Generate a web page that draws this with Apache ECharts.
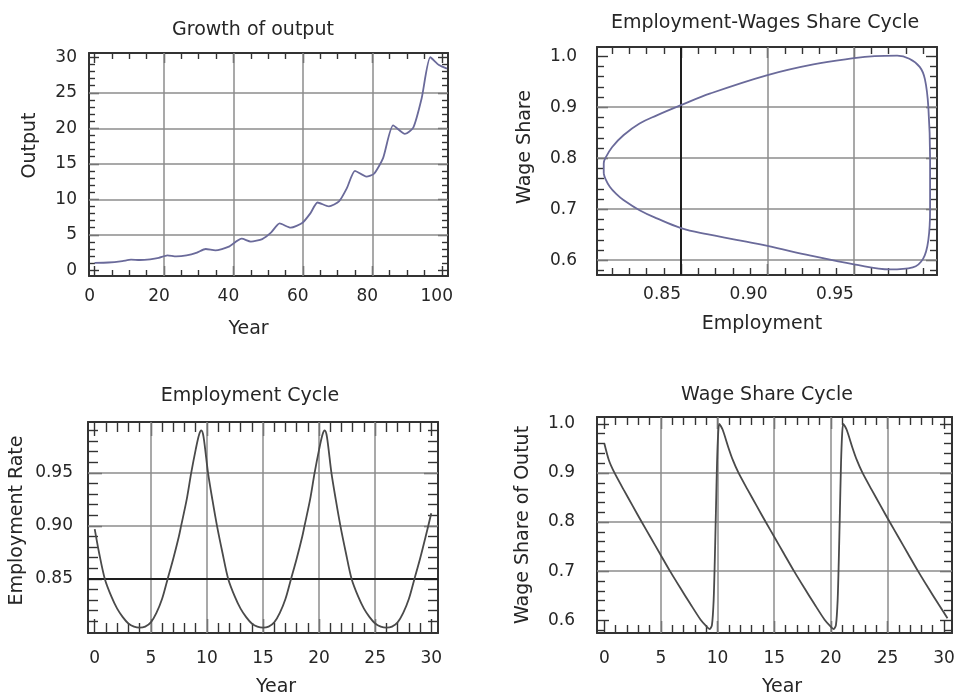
<!DOCTYPE html>
<html>
<head>
<meta charset="utf-8">
<script src="https://cdn.jsdelivr.net/npm/echarts@6/dist/echarts.min.js"></script>
<style>
html,body{margin:0;padding:0;background:#fff;}
#chart{width:965px;height:698px;}
</style>
</head>
<body>
<div id="chart"></div>
<script>
// ---------- DATA ----------
// Panel 1: Growth of output
const p1Year   = [0, 4, 8, 10.5, 13, 16, 18.5, 21, 23.5, 26.5, 29.5, 32, 34.8, 38.5, 42.4, 45, 48.3, 50.8, 53.3, 56.5, 59.8, 62.2, 64.2, 67.5, 70.4, 72.7, 75, 78.3, 80.5, 83.1, 86, 89.4, 91.8, 94.2, 96.7, 99.2, 101.5];
const p1Output = [1.05, 1.1, 1.3, 1.5, 1.45, 1.55, 1.75, 2.1, 1.95, 2.1, 2.5, 3.0, 2.8, 3.3, 4.45, 4.05, 4.4, 5.3, 6.6, 6.0, 6.65, 8.05, 9.55, 9.0, 9.7, 11.6, 14.0, 13.2, 13.6, 15.8, 20.4, 19.2, 20.1, 24.2, 30.0, 28.9, 28.4];
const p1XTicks = [0, 20, 40, 60, 80, 100];
const p1YTicks = [0, 5, 10, 15, 20, 25, 30];
const p1GridX  = [20, 40, 60, 80];
const p1GridY  = [5, 10, 15, 20, 25];

// Panel 2: Employment-Wages Share Cycle (closed loop)
const p2Employment = [0.8053, 0.8062, 0.8088, 0.8125, 0.8167, 0.826, 0.836, 0.85, 0.865, 0.882, 0.90, 0.925, 0.95, 0.971, 0.984, 0.990, 0.993, 0.994, 0.994, 0.993, 0.991, 0.988, 0.982, 0.975, 0.962, 0.95, 0.9265, 0.90, 0.867, 0.85, 0.836, 0.826, 0.8167, 0.8102, 0.8062, 0.8053, 0.8053];
const p2WageShare  = [0.770, 0.760, 0.744, 0.730, 0.718, 0.698, 0.682, 0.663, 0.651, 0.640, 0.628, 0.609, 0.592, 0.582, 0.586, 0.603, 0.640, 0.700, 0.800, 0.900, 0.955, 0.979, 0.995, 1.001, 1.000, 0.996, 0.984, 0.963, 0.927, 0.904, 0.884, 0.868, 0.845, 0.822, 0.800, 0.790, 0.770];
const p2XTicks = [0.85, 0.90, 0.95];
const p2YTicks = [0.6, 0.7, 0.8, 0.9, 1.0];
const p2GridX  = [0.90, 0.95];
const p2DarkX  = [0.85];
const p2GridY  = [0.6, 0.7, 0.8, 0.9];

// Panel 3: Employment Cycle
const p3Year = [0, 0.4, 0.9, 1.5, 2.0, 2.5, 3.0, 3.5, 4.0, 4.5, 5.0, 5.5, 6.0, 6.5, 7.0, 7.5, 7.7, 8.2, 8.6, 9.0, 9.3, 9.5, 9.7, 10.1, 10.5, 10.9, 11.4, 11.9, 12.5, 13.0, 13.5, 14.0, 14.5, 15.0, 15.5, 16.0, 16.5, 17.0, 17.5, 18.0, 18.5, 18.7, 19.2, 19.6, 20.0, 20.3, 20.5, 20.7, 21.1, 21.5, 21.9, 22.4, 22.9, 23.5, 24.0, 24.5, 25.0, 25.5, 26.0, 26.5, 27.0, 27.5, 28.0, 28.5, 29.0, 29.5, 30.0];
const p3Emp  = [0.897, 0.874, 0.850, 0.833, 0.822, 0.814, 0.808, 0.805, 0.804, 0.805, 0.809, 0.818, 0.831, 0.850, 0.869, 0.890, 0.900, 0.925, 0.950, 0.972, 0.986, 0.990, 0.984, 0.950, 0.924, 0.900, 0.874, 0.850, 0.833, 0.822, 0.814, 0.808, 0.805, 0.804, 0.805, 0.809, 0.818, 0.831, 0.850, 0.869, 0.890, 0.900, 0.925, 0.950, 0.972, 0.986, 0.990, 0.984, 0.950, 0.924, 0.900, 0.874, 0.850, 0.833, 0.822, 0.814, 0.808, 0.805, 0.804, 0.805, 0.809, 0.818, 0.831, 0.850, 0.869, 0.890, 0.912];
const p3XTicks = [0, 5, 10, 15, 20, 25, 30];
const p3YTicks = [0.85, 0.90, 0.95];
const p3GridX  = [5, 10, 15, 20, 25];
const p3GridY  = [0.90, 0.95];
const p3DarkY  = [0.85];

// Panel 4: Wage Share Cycle
const p4Year = [0.0, 0.4, 0.9, 1.7, 2.5, 3.3, 4.1, 4.9, 5.8, 6.7, 7.6, 8.5, 9.0, 9.3, 9.5, 9.65, 9.75, 9.85, 9.95, 10.05, 10.15, 10.45, 10.95, 11.35, 11.85, 12.65, 13.45, 14.25, 15.05, 15.85, 16.75, 17.65, 18.55, 19.45, 19.95, 20.25, 20.45, 20.6, 20.7, 20.8, 20.9, 21.0, 21.1, 21.4, 21.9, 22.3, 22.8, 23.6, 24.4, 25.2, 26.0, 26.8, 27.7, 28.6, 29.5, 30.3];
const p4Wage = [0.960, 0.926, 0.900, 0.866, 0.833, 0.800, 0.768, 0.736, 0.700, 0.666, 0.633, 0.601, 0.588, 0.582, 0.590, 0.640, 0.720, 0.820, 0.920, 0.980, 1.000, 0.988, 0.952, 0.926, 0.900, 0.866, 0.833, 0.800, 0.768, 0.736, 0.700, 0.666, 0.633, 0.601, 0.588, 0.582, 0.590, 0.640, 0.720, 0.820, 0.920, 0.980, 1.000, 0.988, 0.952, 0.926, 0.900, 0.866, 0.833, 0.800, 0.768, 0.736, 0.700, 0.666, 0.633, 0.604];
const p4XTicks = [0, 5, 10, 15, 20, 25, 30];
const p4YTicks = [0.6, 0.7, 0.8, 0.9, 1.0];
const p4GridX  = [5, 10, 15, 20, 25];
const p4GridY  = [0.7, 0.8, 0.9];

// ---------- BUILD ----------
const FONT = 'DejaVu Sans';
const TXT = '#262626';
const FRAME = '#333';

function zip(a, b) { return a.map((v, i) => [v, b[i]]); }
function minors(from, to, step, majors) {
  const out = [];
  const n = Math.round((to - from) / step);
  for (let i = 0; i <= n; i++) {
    const v = Math.round((from + i * step) * 10000) / 10000;
    if (!majors.some(m => Math.abs(m - v) < step / 10)) out.push(v);
  }
  return out;
}

const grids = [], xAxes = [], yAxes = [], series = [], titles = [];

function panel(c) {
  const gi = grids.length;
  grids.push({ left: c.grid[0], top: c.grid[1], width: c.grid[2], height: c.grid[3], containLabel: false });
  const xBase = xAxes.length, yBase = yAxes.length;
  const tickStyle = { color: FRAME, width: 1.4 };
  const mk = (dim, pos, major, main) => {
    const isX = dim === 'x';
    const ticks = major ? (isX ? c.xMajor : c.yMajor) : (isX ? c.xMinor : c.yMinor);
    const ax = {
      type: 'value', gridIndex: gi, position: pos,
      min: isX ? c.xMin : c.yMin, max: isX ? c.xMax : c.yMax,
      axisLine: { show: major, onZero: false, lineStyle: { color: FRAME, width: 2 } },
      axisTick: { show: true, inside: true, customValues: ticks, length: major ? c.majLen : c.minLen, lineStyle: tickStyle },
      splitLine: { show: false },
      axisLabel: { show: false },
      z: 3
    };
    if (main) {
      ax.axisLabel = {
        show: true, customValues: isX ? c.xLabels : c.yLabels,
        formatter: v => v.toFixed(isX ? c.xDec : c.yDec),
        fontFamily: FONT, fontSize: 17, color: TXT,
        margin: isX ? c.xMargin : c.yMargin,
        padding: isX ? (c.xLabelPad || 0) : 0
      };
      ax.name = isX ? c.xName : c.yName;
      ax.nameLocation = 'middle';
      ax.nameGap = isX ? c.xNameGap : c.yNameGap;
      ax.nameTextStyle = { fontFamily: FONT, fontSize: 19, color: TXT, padding: isX ? c.xNamePad : c.yNamePad };
    }
    return ax;
  };
  xAxes.push(mk('x', 'bottom', true, true), mk('x', 'bottom', false, false), mk('x', 'top', true, false), mk('x', 'top', false, false));
  yAxes.push(mk('y', 'left', true, true), mk('y', 'left', false, false), mk('y', 'right', true, false), mk('y', 'right', false, false));

  const gridData = [];
  (c.gridX || []).forEach(v => gridData.push({ xAxis: v }));
  (c.gridY || []).forEach(v => gridData.push({ yAxis: v }));
  (c.darkX || []).forEach(v => gridData.push({ xAxis: v, lineStyle: { color: '#1e1e1e', width: 2 } }));
  (c.darkY || []).forEach(v => gridData.push({ yAxis: v, lineStyle: { color: '#1e1e1e', width: 2 } }));
  series.push({
    type: 'line', xAxisIndex: xBase, yAxisIndex: yBase, data: [], silent: true, z: 1,
    markLine: {
      silent: true, symbol: ['none', 'none'], label: { show: false }, animation: false,
      lineStyle: { color: '#8c8c8c', width: 1.5, type: 'solid' },
      emphasis: { disabled: true },
      data: gridData
    }
  });
  series.push({
    type: 'line', xAxisIndex: xBase, yAxisIndex: yBase, data: c.data,
    showSymbol: false, symbol: 'none', smooth: c.smooth, silent: true, z: 10,
    lineStyle: { color: c.color, width: 1.8 }
  });
  titles.push({
    text: c.title, left: c.titlePos[0], top: c.titlePos[1], textAlign: 'center',
    textStyle: { fontFamily: FONT, fontSize: 19, fontWeight: 'normal', color: TXT }
  });
}

panel({
  grid: [89, 53, 359, 223],
  xMin: -1.6, xMax: 101.8, yMin: -0.8, yMax: 30.6,
  xMajor: p1XTicks, xMinor: minors(0, 100, 5, p1XTicks),
  yMajor: p1YTicks, yMinor: minors(0, 30, 1, p1YTicks),
  xLabels: p1XTicks, yLabels: p1YTicks, xDec: 0, yDec: 0,
  majLen: 10, minLen: 6, xMargin: 12, yMargin: 12, xLabelPad: [0, 10, 0, 0],
  xName: 'Year', yName: 'Output', xNameGap: 44, yNameGap: 49,
  xNamePad: [0, 40, 0, 0], yNamePad: [0, 0, 0, 38],
  gridX: p1GridX, gridY: p1GridY,
  data: zip(p1Year, p1Output), smooth: 0.2, color: '#6a6a9a',
  title: 'Growth of output', titlePos: [248, 16]
});

panel({
  grid: [597, 47, 340, 228],
  xMin: 0.8014, xMax: 0.998, yMin: 0.571, yMax: 1.018,
  xMajor: p2XTicks, xMinor: minors(0.81, 0.99, 0.01, p2XTicks),
  yMajor: p2YTicks, yMinor: minors(0.58, 1.0, 0.02, p2YTicks),
  xLabels: p2XTicks, yLabels: p2YTicks, xDec: 2, yDec: 1,
  majLen: 11, minLen: 7, xMargin: 11, yMargin: 20, xLabelPad: [0, 38, 0, 0],
  xName: 'Employment', yName: 'Wage Share', xNameGap: 40, yNameGap: 62,
  xNamePad: [0, 10, 0, 0], yNamePad: [0, 0, 0, 28],
  gridX: p2GridX, gridY: p2GridY, darkX: p2DarkX,
  data: zip(p2Employment, p2WageShare), smooth: 0.4, color: '#6a6a9a',
  title: 'Employment-Wages Share Cycle', titlePos: [760, 9]
});

panel({
  grid: [88, 422, 350, 215],
  xMin: -0.6, xMax: 30.6, yMin: 0.799, yMax: 0.998,
  xMajor: p3XTicks, xMinor: minors(0, 30, 1, p3XTicks),
  yMajor: p3YTicks, yMinor: minors(0.81, 0.99, 0.01, p3YTicks),
  xLabels: p3XTicks, yLabels: p3YTicks, xDec: 0, yDec: 2,
  majLen: 14, minLen: 10, xMargin: 17, yMargin: 15,
  xName: 'Year', yName: 'Employment Rate', xNameGap: 45, yNameGap: 61,
  xNamePad: [0, 0, 0, 26], yNamePad: [0, 0, 0, 14],
  gridX: p3GridX, gridY: p3GridY, darkY: p3DarkY,
  data: zip(p3Year, p3Emp), smooth: 0.3, color: '#4a4a4a',
  title: 'Employment Cycle', titlePos: [245, 382]
});

panel({
  grid: [597, 417, 355, 220],
  xMin: -0.65, xMax: 30.7, yMin: 0.574, yMax: 1.014,
  xMajor: p4XTicks, xMinor: minors(0, 30, 1, p4XTicks),
  yMajor: p4YTicks, yMinor: minors(0.58, 1.0, 0.02, p4YTicks),
  xLabels: p4XTicks, yLabels: p4YTicks, xDec: 0, yDec: 1,
  majLen: 12, minLen: 8, xMargin: 17, yMargin: 22,
  xName: 'Year', yName: 'Wage Share of Outut', xNameGap: 45, yNameGap: 64,
  xNamePad: [0, 0, 0, 15], yNamePad: 0,
  gridX: p4GridX, gridY: p4GridY,
  data: zip(p4Year, p4Wage), smooth: 0.25, color: '#4a4a4a',
  title: 'Wage Share Cycle', titlePos: [762, 381]
});

const chart = echarts.init(document.getElementById('chart'), null, { renderer: 'canvas' });
chart.setOption({
  backgroundColor: '#ffffff',
  animation: false,
  title: titles,
  grid: grids,
  xAxis: xAxes,
  yAxis: yAxes,
  series: series
});
</script>
</body>
</html>
